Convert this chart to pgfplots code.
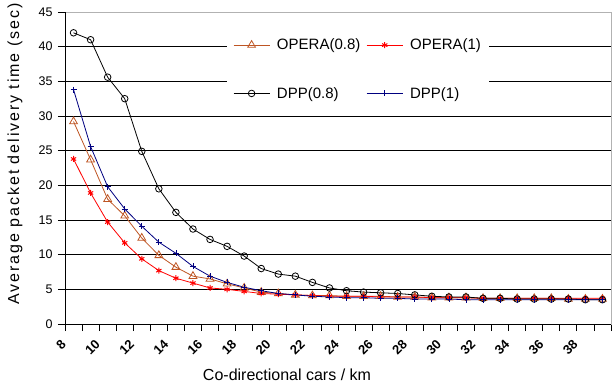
\documentclass[border=0pt]{standalone}
\usepackage{fontspec}
\setmainfont{Liberation Sans}
\usepackage{graphicx}
\usepackage{pgfplots}
\pgfplotsset{compat=1.18}
\usepackage{pgfplotstable}
\definecolor{operabrown}{RGB}{190,85,35}
\definecolor{navyblue}{RGB}{0,0,128}

\pgfplotstableread{
x    o08  o1   d08  d1
8.5  29.2 23.8 42.0 33.8
9.5  23.7 18.9 41.0 25.6
10.5 18.0 14.7 35.6 19.8
11.5 15.6 11.7 32.5 16.6
12.5 12.4 9.4  24.9 14.1
13.5 9.9  7.7  19.5 11.8
14.5 8.2  6.6  16.1 10.2
15.5 6.9  5.9  13.7 8.3
16.5 6.5  5.2  12.2 6.9
17.5 5.8  5.0  11.2 6.0
18.5 5.2  4.7  9.8  5.3
19.5 4.6  4.4  8.0  4.8
20.5 4.4  4.3  7.2  4.4
21.5 4.2  4.2  6.9  4.2
22.5 4.1  4.1  6.0  4.0
23.5 4.1  4.0  5.2  3.9
24.5 4.0  4.0  4.8  3.8
25.5 4.0  4.0  4.6  3.8
26.5 4.0  3.9  4.5  3.7
27.5 3.9  3.9  4.4  3.7
28.5 3.9  3.9  4.2  3.6
29.5 3.8  3.8  4.0  3.6
30.5 3.8  3.8  3.9  3.6
31.5 3.8  3.8  3.9  3.5
32.5 3.7  3.7  3.7  3.5
33.5 3.7  3.7  3.7  3.5
34.5 3.7  3.7  3.6  3.5
35.5 3.7  3.7  3.6  3.5
36.5 3.7  3.7  3.6  3.5
37.5 3.6  3.7  3.6  3.5
38.5 3.6  3.7  3.5  3.5
39.5 3.6  3.7  3.5  3.5
}\datatable

\begin{document}
\begin{tikzpicture}
\begin{axis}[
  at={(0,0)}, anchor=south west,
  scale only axis, width=546bp, height=312bp,
  xmin=8, xmax=40, ymin=0, ymax=45,
  xtick={8,10,...,38}, minor xtick={9,11,...,39,40},
  ytick={0,5,...,40}, extra y ticks={45}, extra y tick style={grid=none},
  ymajorgrids, grid style={black, line width=0.8bp},
  axis line style={draw=gray!60, line width=0.8bp},
  tick pos=left, tick align=outside,
  major tick length=7bp, minor tick length=7bp,
  every tick/.style={black, line width=0.8bp},
  minor tick style={black, line width=0.8bp},
  /pgf/number format/assume math mode=true,
  yticklabel style={font=\fontsize{12.5bp}{14bp}\selectfont, xshift=-2bp},
  xticklabel={\rotatebox{45}{\pgfmathprintnumber{\tick}}},
  xticklabel style={font=\fontsize{13bp}{14bp}\selectfont\bfseries, anchor=north east, yshift=-8bp, xshift=2bp, inner sep=0bp},
  ylabel={Average packet delivery time (sec)},
  ylabel style={at={(axis description cs:-0.0916,0.545)}, anchor=center,
    font=\fontsize{16bp}{18bp}\selectfont\addfontfeatures{LetterSpace=12}},
  xlabel={Co-directional cars / km},
  xlabel style={at={(axis description cs:0.4066,-0.1635)}, anchor=center,
    font=\fontsize{16bp}{18bp}\selectfont},
  legend columns=2,
  legend cell align=left,
  legend style={at={(axis description cs:0.2967,0.94)}, anchor=north west,
    draw=none, fill=white, inner xsep=6bp, inner ysep=6bp,
    font=\fontsize{15bp}{17bp}\selectfont, row sep=32bp,
    /tikz/every odd column/.append style={column sep=5bp},
    /tikz/every even column/.append style={column sep=4bp}},
  legend image code/.code={
    \draw[mark repeat=2,mark phase=2,#1] plot coordinates {(0bp,0bp) (18bp,0bp) (36bp,0bp)};
  },
]
\addplot[operabrown, line width=0.8bp, mark=triangle, mark size=4.5bp, mark options={solid, line width=0.8bp}] table[x=x,y=o08] {\datatable};
\addlegendentry{OPERA(0.8)}
\addplot[red, line width=0.8bp, mark=asterisk, mark size=3bp, mark options={solid, line width=1bp}] table[x=x,y=o1] {\datatable};
\addlegendentry{OPERA(1)}
\addplot[black, line width=0.8bp, mark=o, mark size=3.3bp, mark options={solid, line width=0.8bp}] table[x=x,y=d08] {\datatable};
\addlegendentry{DPP(0.8)}
\addplot[navyblue, line width=0.8bp, mark=+, mark size=3bp, mark options={solid, line width=0.8bp}] table[x=x,y=d1] {\datatable};
\addlegendentry{DPP(1)}
\draw[black, line width=0.8bp] (rel axis cs:0,1) -- (rel axis cs:0,0) -- (rel axis cs:1,0);
\end{axis}
\pgfresetboundingbox
\useasboundingbox (-65bp,-59bp) rectangle (548bp,324bp);
\end{tikzpicture}
\end{document}
